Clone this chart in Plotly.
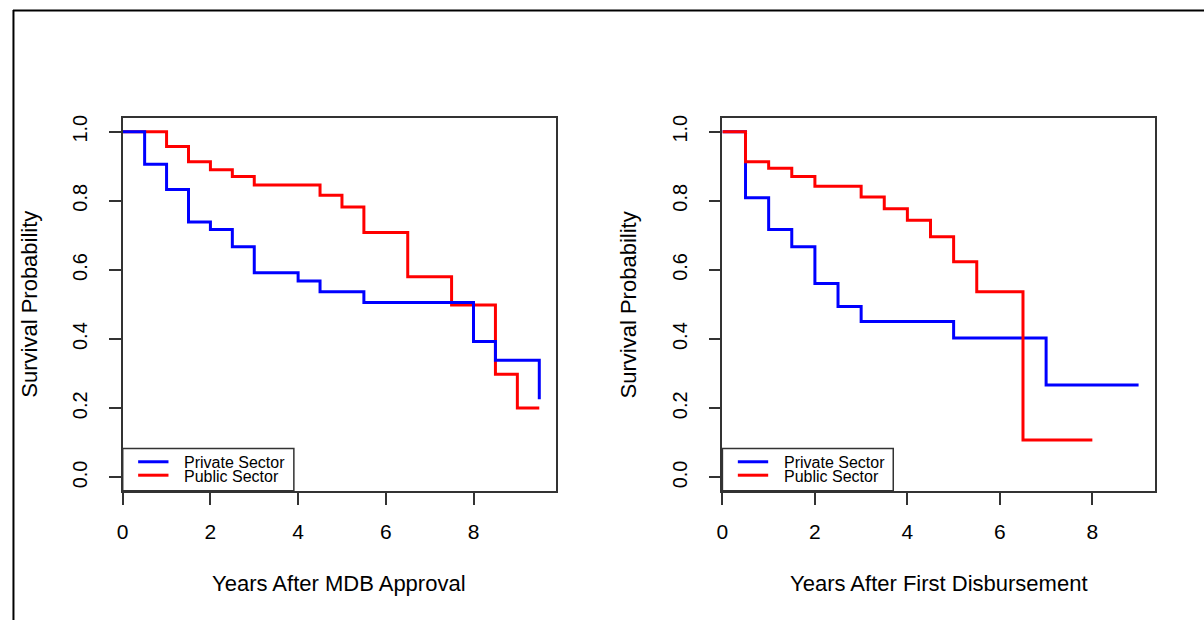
import plotly.graph_objects as go

# ---- data ----
approval_private_t = [0, 0.5, 1, 1.5, 2, 2.5, 3, 4, 4.5, 5.5, 8, 8.5, 9.5]
approval_private_s = [1.0, 0.906, 0.833, 0.739, 0.717, 0.667, 0.592, 0.568, 0.537, 0.506, 0.393, 0.339, 0.226]
approval_public_t = [0, 1, 1.5, 2, 2.5, 3, 4.5, 5, 5.5, 6.5, 7.5, 8.5, 9, 9.5]
approval_public_s = [1.0, 0.957, 0.913, 0.890, 0.870, 0.846, 0.816, 0.782, 0.708, 0.580, 0.499, 0.298, 0.201, 0.201]

disb_private_t = [0, 0.5, 1, 1.5, 2, 2.5, 3, 5, 7, 9]
disb_private_s = [1.0, 0.809, 0.717, 0.667, 0.561, 0.494, 0.451, 0.403, 0.267, 0.267]
disb_public_t = [0, 0.5, 1, 1.5, 2, 3, 3.5, 4, 4.5, 5, 5.5, 6.5, 8]
disb_public_s = [1.0, 0.913, 0.894, 0.870, 0.842, 0.811, 0.777, 0.744, 0.696, 0.624, 0.537, 0.108, 0.108]

x_ticks = [0, 2, 4, 6, 8]
y_ticks = [0.0, 0.2, 0.4, 0.6, 0.8, 1.0]
x_titles = ["Years After MDB Approval", "Years After First Disbursement"]
y_title = "Survival Probability"
legend_labels = ["Private Sector", "Public Sector"]
colors = ["#0000FF", "#FF0000"]

W, H = 1204, 620
def px(x):
    return x / W
def py(y):
    return 1 - y / H

FONT = "Arial, 'Liberation Sans', sans-serif"

fig = go.Figure()

# left panel: public first, private on top
fig.add_trace(go.Scatter(x=approval_public_t, y=approval_public_s, mode="lines",
                         line=dict(color=colors[1], width=3, shape="hv"),
                         xaxis="x", yaxis="y", showlegend=False))
fig.add_trace(go.Scatter(x=approval_private_t, y=approval_private_s, mode="lines",
                         line=dict(color=colors[0], width=3, shape="hv"),
                         xaxis="x", yaxis="y", showlegend=False))
# right panel: private first, public on top
fig.add_trace(go.Scatter(x=disb_private_t, y=disb_private_s, mode="lines",
                         line=dict(color=colors[0], width=3, shape="hv"),
                         xaxis="x2", yaxis="y2", showlegend=False))
fig.add_trace(go.Scatter(x=disb_public_t, y=disb_public_s, mode="lines",
                         line=dict(color=colors[1], width=3, shape="hv"),
                         xaxis="x2", yaxis="y2", showlegend=False))

panels = [(117.3, 552.7), (720.0, 1155.0)]
top, bottom = 115.4, 490.6
xranges = [[0, 9.88], [0, 9.36]]

axcommon = dict(showgrid=False, zeroline=False, showline=True, mirror=True,
                linecolor="#333333", linewidth=1.5, ticks="outside", ticklen=12,
                tickcolor="#333333", tickwidth=1.5, color="#000000")

layout = dict(
    width=W, height=H, autosize=False,
    margin=dict(l=0, r=0, t=0, b=0),
    paper_bgcolor="white", plot_bgcolor="white",
    font=dict(family=FONT, color="#000000"),
    showlegend=False,
)
for i, (l, r) in enumerate(panels):
    sx = "" if i == 0 else "2"
    layout["xaxis" + sx] = dict(axcommon, domain=[px(l), px(r)], range=xranges[i],
                                tickvals=x_ticks, ticktext=[str(v) for v in x_ticks],
                                tickfont=dict(size=21, family=FONT), ticklabelstandoff=9,
                                anchor="y" + sx, fixedrange=True)
    layout["yaxis" + sx] = dict(axcommon, domain=[py(bottom), py(top)], range=[-0.04, 1.04],
                                tickvals=y_ticks, ticktext=["%.1f" % v for v in y_ticks],
                                tickfont=dict(size=20, family=FONT), tickangle=-90,
                                ticklabelstandoff=14,
                                anchor="x" + sx, fixedrange=True)
fig.update_layout(**layout)

shapes = []
annotations = []
# outer frame (document border)
shapes.append(dict(type="line", xref="paper", yref="paper", x0=px(7), x1=px(W), y0=py(7.5), y1=py(7.5),
                   line=dict(color="#000000", width=2)))
shapes.append(dict(type="line", xref="paper", yref="paper", x0=px(7.5), x1=px(7.5), y0=py(7), y1=py(H),
                   line=dict(color="#000000", width=2)))

legend_boxes = [(117.3, 289.3), (720.0, 891.7)]
for i, (l, r) in enumerate(panels):
    bl, br = legend_boxes[i]
    shapes.append(dict(type="rect", xref="paper", yref="paper", x0=px(bl), x1=px(br),
                       y0=py(490.0), y1=py(447.7), line=dict(color="#333333", width=1.5),
                       fillcolor="rgba(0,0,0,0)"))
    for j, lab in enumerate(legend_labels):
        yy = 461.0 + j * 13.5
        shapes.append(dict(type="line", xref="paper", yref="paper",
                           x0=px(bl + 15.5), x1=px(bl + 46), y0=py(yy), y1=py(yy),
                           line=dict(color=colors[j], width=3)))
        annotations.append(dict(text=lab, xref="paper", yref="paper", x=px(bl + 60), y=py(yy + 1),
                                xanchor="left", yanchor="middle", showarrow=False,
                                font=dict(size=16, family=FONT, color="#000000")))
    # axis titles
    annotations.append(dict(text=x_titles[i], xref="paper", yref="paper", x=px((l + r) / 2), y=py(583),
                            xanchor="center", yanchor="middle", showarrow=False,
                            font=dict(size=22, family=FONT, color="#000000")))
    annotations.append(dict(text=y_title, xref="paper", yref="paper", x=px(l - 94), y=py((top + bottom) / 2),
                            xanchor="center", yanchor="middle", showarrow=False, textangle=-90,
                            font=dict(size=22, family=FONT, color="#000000")))

fig.update_layout(shapes=shapes, annotations=annotations)
fig.write_html("out.html",
               post_script="document.body.style.margin='0';document.body.style.overflow='hidden';")
